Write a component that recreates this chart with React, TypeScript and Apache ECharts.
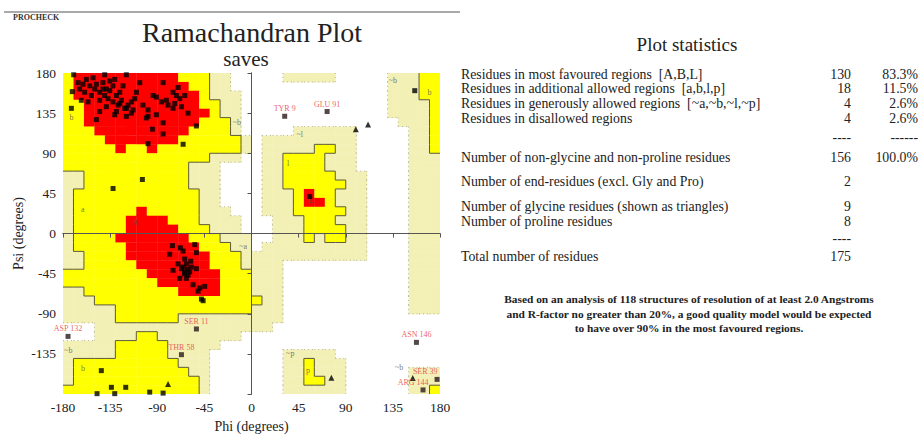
import React, { useEffect, useRef } from "react";
import * as echarts from "echarts";

// ---------- DATA ----------
// Region map: 36 rows (psi 180 -> -180, 10 deg each), 36 cols (phi -180 -> 180)
// R = most favoured, Y = additional allowed, L = generously allowed, . = disallowed
const regionRows: string[] = [
  "YRRRRRRRRRRYYYLL.....LLLLL.....LLLYY",
  "YRRRRRRRRRRRYYLL...............LLLYY",
  "YRRRRRRRRRRRRYLLL..............LLLYY",
  "YYRRRRRRRRRRRYYLL..............LLLLY",
  "YYRRRRRRRRRRRRYLL..............LLLLY",
  "YYRRRRRRRRRRRYYYL...............LLLY",
  "YYYRRRRRRRRRYYYYL.....LLLLLL.....LLY",
  "YYYYRRRRRRRYYYYYYL.LLLLLLLLL.....LLY",
  "YYYYYRYYRYYYYYYYYL.LLLLLYYLL.....LLY",
  "YYYYYYYYYYYYYYLLL..LLYYYYLLL.....LLL",
  "YYYYYYYYYYYYLLL....LLYYYYLLL.....LLL",
  "LLYYYYYYYYYYLLL....LLYYYYYLLL....LLL",
  "LLYYYYYYYYYYLLL....LLYYYYYYLL....LLL",
  "LYYYYYYYYYYYYLL....LLLYRYYLLL....LLL",
  "LYYYYYYYYYYYYLL....LLLYRRYLLL....LLL",
  "LYYYYYYRYYYYYLLL...LLLYYYYYLL....LLL",
  "LYYYYYRRRRYYYLLLL...LLLYYYLLL....LLL",
  "LYYYYYRRRRRYYYLLL...LLLYYYYLL....LLL",
  "LYYYYRRRRRRRYYYLLL..LLLYLYYLL....LLL",
  "LYYYYYRRRRRRRYYYLL.LLLLLLLLLL....LLL",
  "LLYYYYRRRRRRRRYYYLLLLLLLLLLLL....LLL",
  "LLYYYYYRRRRRRRYYYLLLL............LLL",
  "YYYYYYYYRRRRRRRYYYLLL............LLL",
  "YYYYYYYYYRRRRRRYYYLLL............LLL",
  "LLYYYYYYYYYRRRRYYYLLL............LLL",
  "LLLYYYYYYYYYYYYYYYYLL............LLL",
  "LLLLLYYYYYYYYYYYYYLLL............LLL",
  "LLLLLYYYYYYLLLLLLLLLL...............",
  "...LLLLLLLLLLLLLLLLL................",
  "...LLLLYYLLLLLLLL...................",
  "LLLLLYYYYYLLLLL.....................",
  "LLLLLYYYYYLLLL.......LLLLL..........",
  "LYYYYYYYYYYLLL.......LLYLLL.........",
  "LYYYYYYYYYYYLL.......LLYLLL......LLL",
  "LYYYYYYYYYYYYL.......LLYYLL......LLL",
  "YYYYYYYYYYYYYL.......LLLLLL......LLY",
];

// non-glycine residues [phi, psi]
const residues: [number, number][] = [
  [-169.8, 178], [-140.2, 178], [-119.5, 178], [-171.1, 159.1], [-160.9, 167.4], [-164.1, 162],
  [-162.5, 149.4], [-156.1, 147.6], [-151.3, 174.6], [-148.1, 167.4], [-145, 158.4], [-141.8, 162],
  [-140.2, 154.8], [-135.4, 171], [-135.4, 160.2], [-132.2, 165.6], [-130.6, 172.8], [-129, 154.8],
  [-127.4, 144], [-125.8, 158.4], [-122.7, 165.6], [-119.5, 140.4], [-114.7, 147.6], [-109.9, 158.4],
  [-106.7, 169.2], [-103.6, 144], [-100.4, 129.6], [-98.8, 131.4], [-94, 154.8], [-90.8, 153],
  [-86, 147.6], [-84.4, 169.2], [-84.4, 124.2], [-79.7, 144], [-74.9, 158.4], [-73.3, 145.8],
  [-70.1, 163.8], [-68.5, 151.2], [-66.9, 142.2], [-63.7, 154.8], [-60.6, 135], [-52.6, 120.6],
  [-94.6, 117], [-84.4, 111.6], [-98.8, 100.8], [-65.3, 100.1], [-148.1, 127.8], [-119.5, 131.4],
  [-172, 140.4], [-132.2, 50.5], [-104.2, 60.6], [-145, 149.4], [-138.6, 142.2], [-132.2, 147.6],
  [-129, 136.8], [-124.2, 149.4], [-121, 140.4], [-117.9, 144], [-114.7, 135], [-111.5, 151.2],
  [-145, 136.8], [-157.7, 172.8], [-165.6, 169.2], [-159.3, 158.4], [-152.9, 154.8], [-149.7, 162],
  [-137, 151.2], [-130.6, 133.2], [-138.6, 162], [-141.8, 169.2], [-154.5, 165.6], [-125.8, 145.8],
  [-113.1, 138.6], [-98.8, 138.6], [-90.8, 133.2], [-81.3, 149.4], [-74.9, 140.4], [-71.7, 154.8],
  [-75.5, -13.5], [-67.9, -16], [-65.3, -19.6], [-54.2, -12.4], [-52.6, -21.4], [-78.1, -23.2],
  [-63.8, -28.6], [-62.2, -34], [-66.9, -39.4], [-63.8, -43], [-60.6, -46.6], [-68.5, -50.2],
  [-65.3, -37.6], [-57.4, -37.6], [-74.9, -41.2], [-52.6, -39.4], [-55.8, -57.4], [-49.4, -61],
  [-44.7, -59.2], [-51, -64.6], [-47.8, -73.5], [-46.2, -75.3], [-59, -43], [-62.2, -50.2],
  [-70.1, -34], [-61, -40], [-64, -45], [-58, -31],
  [55.6, 41.5], [155.9, 160.2], [-143.4, -153.7], [-133.8, -172.4], [-120.1, -172.4],
  [-97.2, -177.8], [-84.4, -178.9], [-147.5, -179.5], [-130.6, -179.5],
];

// glycine residues (triangles)
const glycines: [number, number][] = [
  [99.6, 117], [111.3, 122.4], [76.3, -161.6], [-79.7, -168.8], [154, -162],
];

// labelled (outlier) residues
const labelled: [number, number, string][] = [
  [31.7, 131.5, "TYR 9"], [72.2, 136.8, "GLU 91"], [-175.2, -115.3, "ASP 132"],
  [-52.6, -107, "SER 11"], [-66.9, -135.8, "THR 58"], [157.5, -122, "ASN 146"],
  [177.2, -163.5, "SER 39"], [163.8, -175.3, "ARG 144"],
];

// region letters
const regionLabels: [number, number, string][] = [
  [-172, 130, "b"], [-111, 12, "A"], [-161, 27, "a"], [-14, 124, "~b"], [135, 172, "~b"],
  [170, 158, "b"], [46, 111, "~l"], [35, 79, "l"], [57, 37, "L"], [-8, -14, "~a"],
  [-175, -131, "~b"], [-161, -151, "b"], [37, -134, "~p"], [54, -153, "p"], [141, -150, "~b"],
];

const tickValues = [-180, -135, -90, -45, 0, 45, 90, 135, 180];

const statRows: [string, string, string][] = [
  ["Residues in most favoured regions  [A,B,L]", "130", "83.3%"],
  ["Residues in additional allowed regions  [a,b,l,p]", "18", "11.5%"],
  ["Residues in generously allowed regions  [~a,~b,~l,~p]", "4", "2.6%"],
  ["Residues in disallowed regions", "4", "2.6%"],
  ["Number of non-glycine and non-proline residues", "156", "100.0%"],
  ["Number of end-residues (excl. Gly and Pro)", "2", ""],
  ["Number of glycine residues (shown as triangles)", "9", ""],
  ["Number of proline residues", "8", ""],
  ["Total number of residues", "175", ""],
];

const noteLines = [
  "Based on an analysis of 118 structures of resolution of at least 2.0 Angstroms",
  "and R-factor no greater than 20%, a good quality model would be expected",
  "to have over 90% in the most favoured regions.",
];

// ---------- LAYOUT / STYLE ----------
const SERIF = '"Liberation Serif", "DejaVu Serif", serif';
const regionColor: Record<string, string> = { R: "#fe0000", Y: "#ffff00", L: "#f3f0b6" };
const regionCode: Record<string, number> = { R: 1, Y: 2, L: 3 };
const codeColor = ["#fff", regionColor.R, regionColor.Y, regionColor.L];
const statRowY = [74, 88, 103, 118, 157, 181, 206, 221, 256];
const dashRows: [number, boolean][] = [[137, true], [238, false]];
const STAT_FONT = `13.8px ${SERIF}`;

function buildCells() {
  const cells: number[][] = [];
  regionRows.forEach((row, r) => {
    for (let c = 0; c < 36; c++) {
      const ch = row[c];
      if (ch !== ".") cells.push([-180 + 10 * c, 170 - 10 * r, regionCode[ch]]);
    }
  });
  return cells;
}

function edgeKind(a: string, b: string) {
  if (a === b) return 0;
  const s = [a, b].sort().join("");
  if (s === "RY") return 0;
  if (s === ".L") return 2;
  return 1;
}

function buildEdges() {
  const segs: number[][] = [];
  for (let r = 0; r < 36; r++) {
    for (let c = 0; c < 36; c++) {
      const a = regionRows[r][c];
      if (c < 35) {
        const k = edgeKind(a, regionRows[r][c + 1]);
        if (k) segs.push([-170 + 10 * c, 180 - 10 * r, -170 + 10 * c, 170 - 10 * r, k]);
      }
      if (r < 35) {
        const k = edgeKind(a, regionRows[r + 1][c]);
        if (k) segs.push([-180 + 10 * c, 170 - 10 * r, -170 + 10 * c, 170 - 10 * r, k]);
      }
    }
  }
  return segs;
}

// per-label placement tweaks for the crowded corner
const labelPlacement: Record<string, any> = {
  "SER 39": { position: "left", distance: 0, offset: [3, -8] },
  "ARG 144": { position: "left", distance: 0, offset: [8, -7] },
};

export default function App() {
  const ref = useRef<HTMLDivElement>(null);
  useEffect(() => {
    if (!ref.current) return;
    const chart = echarts.init(ref.current, undefined, { renderer: "svg" });

    const axisCommon = {
      type: "value" as const,
      min: -180,
      max: 180,
      interval: 45,
      splitLine: { show: false },
      z: 10,
    };

    const graphic: any[] = [
      { type: "line", shape: { x1: 4, y1: 12, x2: 460, y2: 12 }, style: { stroke: "#555", lineWidth: 1 } },
      { type: "text", x: 13, y: 17, style: { text: "PROCHECK", font: `bold 8px ${SERIF}`, fill: "#333", textVerticalAlign: "middle" } },
      { type: "text", x: 252, y: 32, style: { text: "Ramachandran Plot", font: `28px ${SERIF}`, fill: "#222", textAlign: "center", textVerticalAlign: "middle" } },
      { type: "text", x: 246, y: 59, style: { text: "saves", font: `21px ${SERIF}`, fill: "#222", textAlign: "center", textVerticalAlign: "middle" } },
      { type: "text", x: 687, y: 44, style: { text: "Plot statistics", font: `19px ${SERIF}`, fill: "#222", textAlign: "center", textVerticalAlign: "middle" } },
    ];
    statRows.forEach((row, i) => {
      const y = statRowY[i];
      graphic.push({ type: "text", x: 461, y, style: { text: row[0], font: STAT_FONT, fill: "#222", textVerticalAlign: "middle" } });
      graphic.push({ type: "text", x: 851, y, style: { text: row[1], font: STAT_FONT, fill: "#222", textAlign: "right", textVerticalAlign: "middle" } });
      if (row[2]) graphic.push({ type: "text", x: 918, y, style: { text: row[2], font: STAT_FONT, fill: "#222", textAlign: "right", textVerticalAlign: "middle" } });
    });
    dashRows.forEach(([y, both]) => {
      graphic.push({ type: "text", x: 851, y, style: { text: "----", font: STAT_FONT, fill: "#222", textAlign: "right", textVerticalAlign: "middle" } });
      if (both) graphic.push({ type: "text", x: 918, y, style: { text: "------", font: STAT_FONT, fill: "#222", textAlign: "right", textVerticalAlign: "middle" } });
    });
    noteLines.forEach((t, i) => {
      graphic.push({ type: "text", x: 689, y: 299 + i * 14.5, style: { text: t, font: `bold 11.4px ${SERIF}`, fill: "#222", textAlign: "center", textVerticalAlign: "middle" } });
    });

    const option: any = {
      animation: false,
      backgroundColor: "#fff",
      grid: { left: 63, top: 73, width: 377, height: 334, containLabel: false },
      xAxis: [
        {
          ...axisCommon,
          position: "bottom",
          name: "Phi (degrees)",
          nameLocation: "middle",
          nameGap: 24,
          nameTextStyle: { fontFamily: SERIF, fontSize: 14, color: "#222" },
          axisLine: { show: true, lineStyle: { color: "#555", width: 1 } },
          axisTick: { show: true, length: 4, lineStyle: { color: "#555" } },
          axisLabel: {
            show: true, margin: 6, fontFamily: SERIF, fontSize: 13.5, color: "#222",
            showMinLabel: true, showMaxLabel: true,
            formatter: (v: number) => (tickValues.includes(v) ? String(v) : ""),
          },
        },
        {
          ...axisCommon,
          position: "top",
          axisLine: { show: true, lineStyle: { color: "#555", width: 1 } },
          axisTick: { show: false },
          axisLabel: { show: false },
        },
      ],
      yAxis: [
        {
          ...axisCommon,
          position: "left",
          name: "Psi (degrees)",
          nameLocation: "middle",
          nameGap: 38,
          nameRotate: 90,
          nameTextStyle: { fontFamily: SERIF, fontSize: 14, color: "#222" },
          axisLine: { show: true, lineStyle: { color: "#555", width: 1 } },
          axisTick: { show: true, length: 4, lineStyle: { color: "#555" } },
          axisLabel: {
            show: true, margin: 7, fontFamily: SERIF, fontSize: 13.5, color: "#222",
            showMinLabel: true, showMaxLabel: true,
            formatter: (v: number) => (v === -180 ? "" : String(v)),
          },
        },
        {
          ...axisCommon,
          position: "right",
          axisLine: { show: true, lineStyle: { color: "#555", width: 1 } },
          axisTick: { show: false },
          axisLabel: { show: false },
        },
      ],
      graphic,
      series: [
        {
          type: "custom",
          name: "regions",
          clip: true,
          z: 1,
          silent: true,
          data: buildCells(),
          encode: { x: 0, y: 1 },
          renderItem: (_p: any, api: any) => {
            const phi = api.value(0);
            const psi = api.value(1);
            const k = api.value(2);
            const p1 = api.coord([phi, psi + 10]);
            const p2 = api.coord([phi + 10, psi]);
            return {
              type: "rect",
              shape: { x: p1[0], y: p1[1], width: p2[0] - p1[0] + 0.4, height: p2[1] - p1[1] + 0.4 },
              style: { fill: codeColor[k], stroke: null },
            };
          },
        },
        {
          type: "custom",
          name: "boundaries",
          clip: true,
          z: 2,
          silent: true,
          data: buildEdges(),
          encode: { x: [0, 2], y: [1, 3] },
          renderItem: (_p: any, api: any) => {
            const a = api.coord([api.value(0), api.value(1)]);
            const b = api.coord([api.value(2), api.value(3)]);
            const k = api.value(4);
            return {
              type: "line",
              shape: { x1: a[0], y1: a[1], x2: b[0], y2: b[1] },
              style: k === 1
                ? { stroke: "#5b5a3c", lineWidth: 1 }
                : { stroke: "#b5b49a", lineWidth: 1, lineDash: [1, 3] },
            };
          },
          markLine: {
            silent: true,
            symbol: ["none", "none"],
            label: { show: false },
            lineStyle: { color: "#555", width: 1, type: "solid" },
            data: [{ xAxis: 0 }, { yAxis: 0 }],
          },
        },
        {
          type: "scatter",
          name: "region labels",
          z: 3,
          silent: true,
          symbolSize: 0,
          data: regionLabels,
          encode: { x: 0, y: 1 },
          label: {
            show: true, position: "inside", formatter: (p: any) => p.value[2],
            fontFamily: SERIF, fontSize: 8, color: "#555",
          },
        },
        {
          type: "scatter",
          name: "residues",
          z: 4,
          symbol: "rect",
          symbolSize: 5,
          itemStyle: { color: "#000" },
          data: residues,
        },
        {
          type: "scatter",
          name: "glycine",
          z: 4,
          symbol: "triangle",
          symbolSize: 6,
          itemStyle: { color: "#000" },
          data: glycines,
        },
        {
          type: "scatter",
          name: "labelled",
          z: 5,
          symbol: "rect",
          symbolSize: 5,
          itemStyle: { color: "#2a1a1a" },
          encode: { x: 0, y: 1 },
          data: labelled.map((d) => ({ value: d, label: labelPlacement[d[2]] })),
          label: {
            show: true, position: "top", distance: 1,
            formatter: (p: any) => p.value[2],
            fontFamily: SERIF, fontSize: 8, color: "#e5383b",
          },
        },
      ],
    };
    chart.setOption(option);
    return () => chart.dispose();
  }, []);

  return (
    <div
      ref={ref}
      style={{ position: "absolute", left: 0, top: 0, width: 921, height: 438 }}
    />
  );
}
